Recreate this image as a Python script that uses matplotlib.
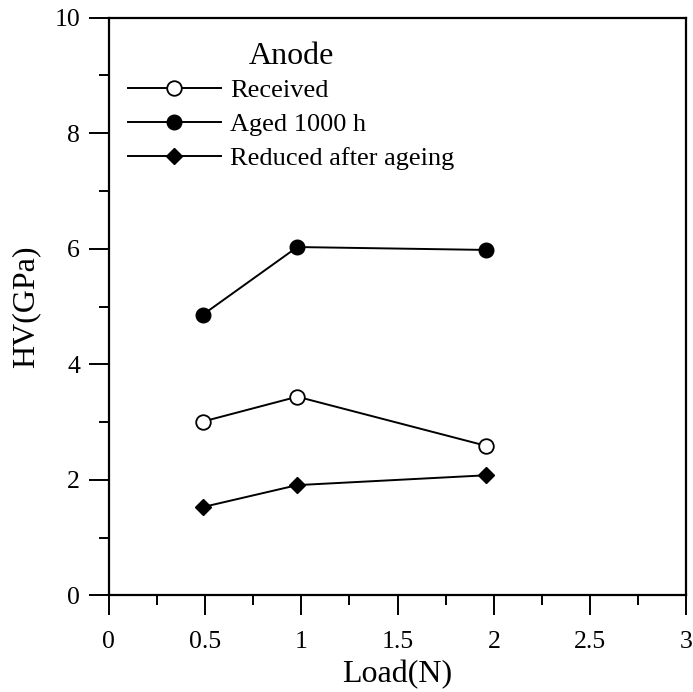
import matplotlib
matplotlib.use("Agg")
import matplotlib.pyplot as plt
from matplotlib.ticker import MultipleLocator

plt.rcParams['font.family'] = ['Liberation Serif', 'DejaVu Serif']

load = [0.49, 0.98, 1.96]
received = [3.01, 3.44, 2.59]
aged = [4.86, 6.03, 5.98]
reduced = [1.53, 1.91, 2.08]
labels = ["Received", "Aged 1000 h", "Reduced after ageing"]

fig = plt.figure(figsize=(6.93, 6.92), dpi=100)
ax = fig.add_axes([0.1566, 0.1395, 0.834, 0.835])

lw = 1.4
ax.plot(load, received, color='black', lw=lw, marker='o', ms=10.5,
        mfc='white', mec='black', mew=1.3, label=labels[0])
ax.plot(load, aged, color='black', lw=lw, marker='o', ms=10.5,
        mfc='black', mec='black', label=labels[1])
ax.plot(load, reduced, color='black', lw=lw, marker='D', ms=8,
        mfc='black', mec='black', label=labels[2])

ax.set_xlim(0, 3)
ax.set_ylim(0, 10)
ax.xaxis.set_minor_locator(MultipleLocator(0.25))
ax.yaxis.set_major_locator(MultipleLocator(2))
ax.yaxis.set_minor_locator(MultipleLocator(1))
ax.set_xticks([0, 0.5, 1, 1.5, 2, 2.5, 3])
ax.set_xticklabels(["0", "0.5", "1", "1.5", "2", "2.5", "3"])
ax.tick_params(which='both', direction='out', width=1.4, labelsize=18.5, top=False, right=False)
ax.tick_params(which='major', length=14.5)
ax.tick_params(axis='x', which='major', pad=11)
ax.tick_params(axis='y', which='major', pad=6)
ax.tick_params(which='minor', length=7)
for s in ax.spines.values():
    s.set_linewidth(1.6)

ax.set_xlabel("Load(N)", fontsize=23, labelpad=5)
ax.set_ylabel("HV(GPa)", fontsize=23, labelpad=10)

leg = ax.legend(loc='upper left', bbox_to_anchor=(0.034, 0.958), frameon=False,
                fontsize=19, title="Anode", title_fontsize=23,
                handlelength=3.5, handletextpad=0.35, labelspacing=0.4,
                borderaxespad=0, borderpad=0)
leg._legend_box.sep = 5.4

fig.savefig("out.png", dpi=100)
